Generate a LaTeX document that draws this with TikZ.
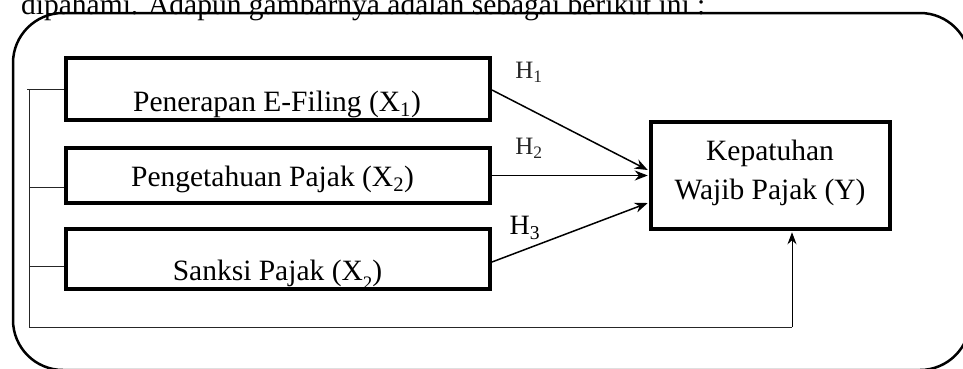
\documentclass[tikz,border=0pt]{standalone}
\usepackage{fontspec}
\setmainfont{Liberation Serif}
\usetikzlibrary{arrows.meta,calc}
\begin{document}
\begin{tikzpicture}[x=1pt,y=1pt,
  varbox/.style={draw=black,line width=4pt,minimum width=424pt,inner sep=0pt,fill=none},
  ybox/.style={draw=black,line width=3.5pt,minimum width=239pt,minimum height=107pt,inner sep=0pt},
  lbl/.style={inner sep=0pt,anchor=base,font=\fontsize{29.5}{34}\selectfont},
  hyp/.style={inner sep=0pt,text=black!85},
  thinline/.style={line width=1pt,black!85},
  arr/.style={line width=1.5pt,-{Stealth[length=13pt,width=10pt]}}]
\useasboundingbox (0,0) rectangle (963,-368);
\clip (0,0) rectangle (963,-368);
% top caption text (cut by page edge)
\node[inner sep=0pt,anchor=base west,font=\fontsize{29.5}{34}\selectfont] (cap) at (21,-14) {dipahami. Adapun gambarnya adalah sebagai berikut ini :};
% big rounded frame
\draw[line width=2.5pt,rounded corners=50pt] (13,-13) rectangle (970,-370);
% variable boxes
\node[varbox,minimum height=62pt] (box1) at (278,-89) {};
\node[varbox,minimum height=55pt] (box2) at (278,-175.5) {};
\node[varbox,minimum height=60pt] (box3) at (278,-259) {};
\node[ybox] (Y) at (770.5,-175.5) {};
% texts
\node[lbl] (t1) at (277,-111.5) {Penerapan E-Filing (X\textsubscript{1})};
\node[lbl] (t2) at (272.5,-186) {Pengetahuan Pajak (X\textsubscript{2})};
\node[lbl] (t3) at (277.5,-280) {Sanksi Pajak (X\raisebox{-9pt}{\fontsize{19}{20}\selectfont 2})};
\node[lbl] (ty1) at (770,-160) {Kepatuhan};
\node[lbl] (ty2) at (770,-199) {Wajib Pajak (Y)};
% hypothesis labels
\node[hyp,font=\fontsize{25}{28}\selectfont] (h1) at (529,-72) {H\textsubscript{1}};
\node[hyp,font=\fontsize{25}{28}\selectfont] (h2) at (529,-148) {H\textsubscript{2}};
\node[hyp,text=black,font=\fontsize{28}{30}\selectfont] (h3) at (525,-228) {H\textsubscript{3}};
% bracket and feedback line
\coordinate (b1) at (29,-89);
\coordinate (b1a) at (27,-89);
\coordinate (b2) at (29,-187);
\coordinate (b3) at (29,-266);
\coordinate (bb) at (29,-327);
\coordinate (yb) at (792,-327);
\draw[thinline] (box1.west) -- (b1a);
\draw[thinline] (b1) -- (bb) -- (yb);
\draw[thinline] (b2) -- (b2 -| box2.west);
\draw[thinline] (b3) -- (b3 -| box3.west);
\draw[line width=1pt,-{Stealth[length=12pt,width=9pt]}] (yb) -- ([yshift=-1.5pt]yb |- Y.south);
% hypothesis arrows
\draw[arr] ([yshift=-1pt]box1.east) -- ([yshift=5.5pt,xshift=-1.5pt]Y.west);
\draw[arr] ([xshift=-3pt]box2.east) -- ([xshift=-1.5pt]Y.west);
\draw[arr] ([yshift=-3pt]box3.east) -- ([yshift=-27.5pt,xshift=-1.5pt]Y.west);
\end{tikzpicture}
\end{document}
